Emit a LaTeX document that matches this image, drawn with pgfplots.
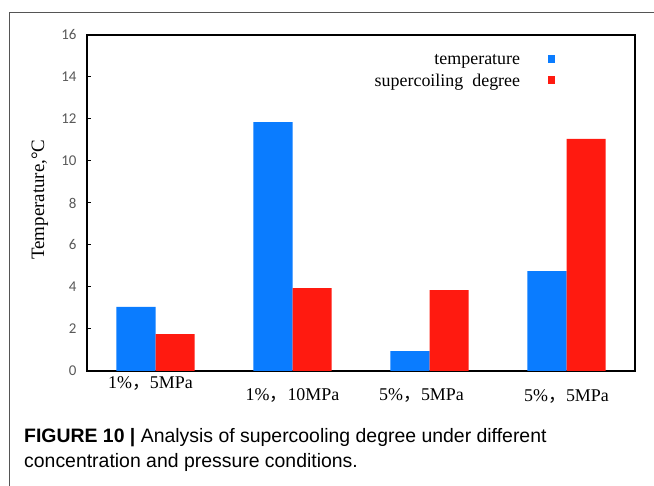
\documentclass[border=0pt]{standalone}
\usepackage{pgfplots}
\pgfplotsset{compat=1.18}
\usepackage{fontspec}
\setmainfont{Liberation Serif}
\newfontfamily\capfont{Liberation Sans}
\newfontfamily\tickfont{Carlito}
\newfontfamily\cjk{Noto Sans CJK SC}
\definecolor{tempblue}{HTML}{0A7CFF}
\definecolor{scred}{HTML}{FF1A10}
\definecolor{framegray}{HTML}{555555}
\definecolor{tickgray}{HTML}{595959}

\pgfplotstableread{
x  temp   super
0  3.05   1.75
1  11.85  3.95
2  0.95   3.85
3  4.75   11.05
}\supercooling

\begin{document}
\begin{tikzpicture}
\useasboundingbox (0bp,0bp) rectangle (654bp,486bp);
\fill[white] (0bp,0bp) rectangle (654bp,486bp);
\draw[framegray, line width=0.9bp] (9bp,0bp) -- (9bp,474bp) -- (654bp,474bp);

\begin{axis}[
  at={(87bp,115bp)}, anchor=south west,
  scale only axis, width=548bp, height=336bp,
  xmin=-0.5, xmax=3.5, ymin=0, ymax=16,
  ytick={0,2,...,16},
  xtick={0,1,2,3},
  xticklabels={
    {\raisebox{-14bp}[0pt][0pt]{\hspace*{-10bp}1\%{\cjk，}5MPa}},
    {\raisebox{-26bp}[0pt][0pt]{1\%{\cjk，}10MPa}},
    {\raisebox{-26bp}[0pt][0pt]{\hspace*{-16bp}5\%{\cjk，}5MPa}},
    {\raisebox{-27bp}[0pt][0pt]{5\%{\cjk，}5MPa}}},
  major x tick style={draw=none},
  extra x ticks={0.5,1.5,2.5},
  extra x tick labels={},
  extra x tick style={major tick length=4bp, tick style={black, line width=1.2bp}},
  xtick pos=bottom, ytick pos=left, tick align=inside,
  major tick length=4bp,
  tick style={black, line width=1bp},
  axis line style={line width=1.6bp},
  /pgf/number format/assume math mode=true,
  yticklabel style={font=\tickfont\fontsize{15}{15}\selectfont, text=tickgray, xshift=-7bp},
  xticklabel style={font=\fontsize{18}{18}\selectfont, anchor=north},
  ylabel={Temperature,°C},
  ylabel style={at={(axis description cs:-0.086,0.51)}, anchor=center,
                font=\fontsize{19}{19}\selectfont},
  legend style={at={(axis description cs:0.86,0.955)}, anchor=north east,
                draw=none, fill=none, font=\fontsize{18}{18}\selectfont,
                row sep=4bp},
  legend plot pos=right,
  legend cell align=right,
  bar width=0.285,
]
\addplot[ybar, bar shift=-0.1425, fill=tempblue, draw=none,
  legend image code/.code={\path (0bp,0bp); \fill[tempblue] (26bp,-3bp) rectangle (33bp,5bp);}]
  table[x=x, y=temp] {\supercooling};
\addlegendentry{temperature}
\addplot[ybar, bar shift=0.1425, fill=scred, draw=none,
  legend image code/.code={\path (0bp,0bp); \fill[scred] (26bp,-3bp) rectangle (33bp,5bp);}]
  table[x=x, y=super] {\supercooling};
\addlegendentry{supercoiling\ \ degree}
\end{axis}

\node[anchor=base west, font=\capfont\fontsize{19.5}{22}\selectfont, inner sep=0pt]
  at (24bp,43bp) {\textbf{FIGURE 10 |} Analysis of supercooling degree under different};
\node[anchor=base west, font=\capfont\fontsize{19.5}{22}\selectfont, inner sep=0pt]
  at (24bp,19bp) {concentration and pressure conditions.};
\end{tikzpicture}
\end{document}
